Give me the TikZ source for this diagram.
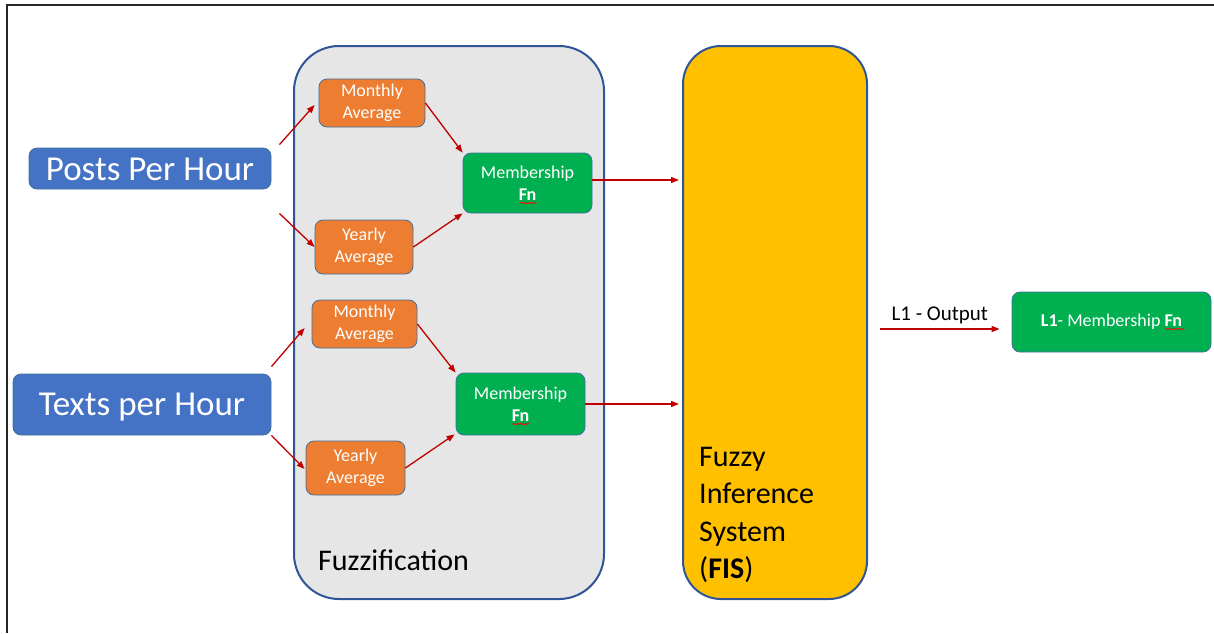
\documentclass[tikz,border=0pt]{standalone}
\usepackage{fontspec}
\setmainfont{Carlito}
\usetikzlibrary{arrows.meta,calc,decorations.pathmorphing}
\definecolor{inblue}{HTML}{4472C4}
\definecolor{avgorange}{HTML}{ED7D31}
\definecolor{mfgreen}{HTML}{00B050}
\definecolor{fisyellow}{HTML}{FFC000}
\definecolor{fuzzgray}{HTML}{E6E6E6}
\definecolor{edgeblue}{HTML}{41719C}
\definecolor{darkblue}{HTML}{2F5597}
\definecolor{arrred}{HTML}{C00000}
\tikzset{
  framepath/.style={draw=black!85, line width=2pt},
  smallbox/.style={draw=edgeblue, line width=0.8pt, rounded corners=8pt, text=white, align=center, inner sep=0pt, font=\fontsize{18}{22}\selectfont},
  inbox/.style={smallbox, fill=inblue, font=\fontsize{35}{40}\selectfont},
  avgbox/.style={smallbox, fill=avgorange},
  mfbox/.style={smallbox, fill=mfgreen},
  bigbox/.style={draw=darkblue, line width=2pt, inner sep=0pt},
  arr/.style={draw=arrred, line width=1.3pt, -{Triangle[length=8pt,width=6pt]}},
  squig/.style={draw=red, line width=0.6pt, decorate, decoration={snake, segment length=2.5pt, amplitude=0.7pt}}
}
\begin{document}
\begin{tikzpicture}[x=1pt,y=-1pt]
\useasboundingbox (0,0) rectangle (1214,633);
\coordinate (fa) at (1214,5);
\coordinate (fb) at (7,5);
\coordinate (fc) at (7,633);
\draw[framepath] (fa) -- (fb) -- (fc);

% containers
\node[bigbox, fill=fuzzgray, rounded corners=45pt, minimum width=310pt, minimum height=553pt, anchor=north west] (fuzz) at (293,45) {};
\node[bigbox, fill=fisyellow, rounded corners=38pt, minimum width=184pt, minimum height=553pt, anchor=north west] (fis) at (682,45) {};
\node[anchor=west, inner sep=0pt, font=\fontsize{30}{36}\selectfont] (fuzzlbl) at (318,560) {Fuzzification};
\node[anchor=west, inner sep=0pt, align=left, font=\fontsize{30}{37.5}\selectfont] (fislbl) at (699,515) {Fuzzy\\Inference\\System\\(\textbf{FIS})};

% inputs
\node[inbox, minimum width=242pt, minimum height=41pt] (posts) at (150,168.5) {\raisebox{-1pt}[\height][\depth]{Posts Per Hour}};
\node[inbox, minimum width=258pt, minimum height=61pt] (texts) at (142,404.5) {\raisebox{-3pt}[\height][\depth]{Texts per Hour}};

% first group
\node[avgbox, minimum width=106pt, minimum height=48pt] (ma1) at (372,103) {Monthly\\Average};
\node[avgbox, minimum width=98pt, minimum height=54pt] (ya1) at (364,247) {Yearly\\Average};
\node[mfbox, minimum width=129pt, minimum height=60pt] (m1) at (527.5,183) {Membership\\\textbf{Fn}};

% second group
\node[avgbox, minimum width=105pt, minimum height=48pt] (ma2) at (364.5,324) {Monthly\\Average};
\node[avgbox, minimum width=99pt, minimum height=54pt] (ya2) at (355.5,468) {Yearly\\Average};
\node[mfbox, minimum width=129pt, minimum height=62pt] (m2) at (520.5,404) {Membership\\\textbf{Fn}};

% output
\node[mfbox, minimum width=199pt, minimum height=60pt] (l1) at (1111.5,322) {\textbf{L1}- Membership \textbf{Fn}};

% squiggles under "Fn"
\draw[squig] ($(m1.center)+(-8,20)$) -- ($(m1.center)+(9,20)$);
\draw[squig] ($(m2.center)+(-8,20)$) -- ($(m2.center)+(9,20)$);
\draw[squig] ($(l1.center)+(54,7)$) -- ($(l1.center)+(73,7)$);

% arrows group 1
\draw[arr] ($(posts.north east)+(8,-3)$) -- ($(ma1.west)+(-4,2)$);
\draw[arr] ($(posts.south east)+(8,24)$) -- (ya1.west);
\draw[arr] (ma1.east) -- (m1.north west);
\draw[arr] (ya1.east) -- (m1.south west);
% arrows group 2
\draw[arr] ($(texts.north east)+(0,-7)$) -- ($(ma2.west)+(-7,4)$);
\draw[arr] (texts.south east) -- ($(ya2.west)+(-1,1)$);
\draw[arr] (ma2.east) -- (m2.north west);
\draw[arr] (ya2.east) -- ($(m2.south west)+(-1,-1)$);
% to FIS
\draw[arr] ($(m1.east)+(0,-3)$) -- ($(m1.east -| fis.west)+(-3,-3)$);
\draw[arr] (m2.east) -- ($(m2.east -| fis.west)+(-3,0)$);
% FIS to output
\draw[arr] ($(fis.east |- l1.west)+(12,7)$) -- node[above, inner sep=4pt, font=\fontsize{21}{25}\selectfont] (outlbl) {L1 - Output} ($(l1.west)+(-12,7)$);
\end{tikzpicture}
\end{document}
